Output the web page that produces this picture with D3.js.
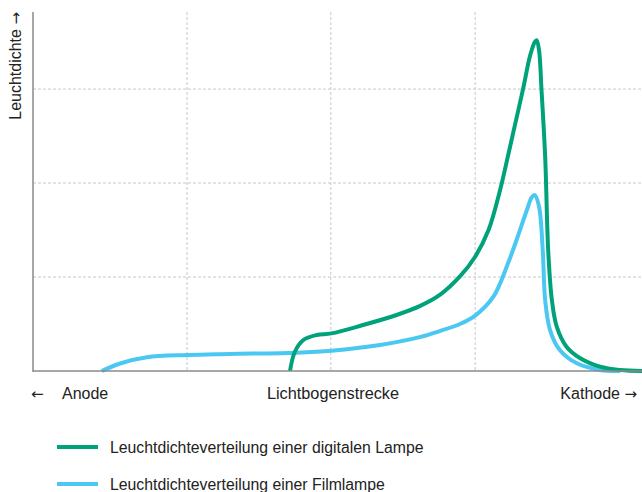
<!DOCTYPE html>
<html><head><meta charset="utf-8">
<script src="https://cdn.jsdelivr.net/npm/d3@7"></script>
<style>body{margin:0;background:#fff}svg{display:block}text{font-family:"Liberation Sans",Arial,sans-serif;fill:#222}.arr{font-family:"DejaVu Sans",sans-serif}</style>
</head><body>
<script>
// x: position along arc (0 = left end, 100 = right end), y: luminance (grid units)
const digitalX = [42.2,43.0,44.4,46.6,49.0,54.2,59.7,63.5,66.8,70.1,72.6,74.8,76.7,78.0,78.9,80.5,81.6,82.4,82.7,83.1,83.5,84.1,84.6,85.2,86.0,87.6,89.8,93.1,96.4,100];
const digitalY = [0,0.205,0.33,0.383,0.40,0.489,0.596,0.69,0.809,1.006,1.216,1.50,1.926,2.29,2.55,3.01,3.35,3.50,3.52,3.41,2.99,2.28,1.28,0.755,0.471,0.258,0.138,0.046,0.011,0];
const filmX = [11.3,14.3,18.7,25.3,32.3,43.3,49.0,57.0,63.5,66.8,70.1,72.6,75.6,78.0,79.4,81.1,81.9,82.4,83.1,83.7,84.1,84.9,86.5,89.3,93.1,96.4];
const filmY = [0,0.08,0.146,0.17,0.181,0.195,0.216,0.277,0.36,0.425,0.50,0.59,0.791,1.146,1.394,1.713,1.85,1.872,1.748,1.287,0.755,0.436,0.223,0.0815,0.011,0];
const xGrid = [25.3,48.9,72.6];
const yGrid = [1,2,3];
const seriesNames = ["Leuchtdichteverteilung einer digitalen Lampe","Leuchtdichteverteilung einer Filmlampe"];
const colors = ["#00a27a","#4ac8f2"];

const W=642,H=492;
const svg=d3.select("body").append("svg").attr("width",W).attr("height",H);
const x=d3.scaleLinear().domain([0,100]).range([33,642]);
const y=d3.scaleLinear().domain([0,3.82]).range([371,12]);

svg.append("g").selectAll("line").data(xGrid).join("line")
 .attr("x1",d=>x(d)).attr("x2",d=>x(d)).attr("y1",y(3.82)).attr("y2",y(0))
 .attr("stroke","#c8c8c8").attr("stroke-width",1).attr("stroke-dasharray","3,2");
svg.append("g").selectAll("line").data(yGrid).join("line")
 .attr("x1",x(0)).attr("x2",x(100)).attr("y1",d=>y(d)).attr("y2",d=>y(d))
 .attr("stroke","#c8c8c8").attr("stroke-width",1).attr("stroke-dasharray","3,2");

const line=d3.line().x(d=>x(d[0])).y(d=>Math.min(y(0),y(d[1]))).curve(d3.curveCatmullRom.alpha(0.5));
const film=filmX.map((v,i)=>[v,filmY[i]]);
const dig=digitalX.map((v,i)=>[v,digitalY[i]]);
svg.append("path").datum(film).attr("d",line).attr("fill","none").attr("stroke",colors[1]).attr("stroke-width",4).attr("stroke-linejoin","round");
svg.append("path").datum(dig).attr("d",line).attr("fill","none").attr("stroke",colors[0]).attr("stroke-width",4).attr("stroke-linejoin","round");

// axes
svg.append("line").attr("x1",x(0)).attr("x2",x(0)).attr("y1",y(3.82)).attr("y2",y(0)+1).attr("stroke","#8a8a8a").attr("stroke-width",1.5);
svg.append("line").attr("x1",x(0)).attr("x2",x(100)).attr("y1",y(0)).attr("y2",y(0)).attr("stroke","#8a8a8a").attr("stroke-width",1.5);

const yl=svg.append("text").attr("transform","translate(21,12) rotate(-90)").attr("text-anchor","end").attr("font-size",16);
yl.append("tspan").text("Leuchtdichte ");
yl.append("tspan").attr("class","arr").attr("font-size",15).text("→");

svg.append("text").attr("class","arr").attr("x",31).attr("y",399).attr("font-size",15).text("←");
svg.append("text").attr("x",62).attr("y",399).attr("font-size",16).text("Anode");
svg.append("text").attr("x",333).attr("y",399).attr("text-anchor","middle").attr("font-size",16.3).text("Lichtbogenstrecke");
const kt=svg.append("text").attr("x",637).attr("y",399).attr("text-anchor","end").attr("font-size",16);
kt.append("tspan").text("Kathode ");
kt.append("tspan").attr("class","arr").attr("font-size",15).text("→");

const lg=svg.append("g").selectAll("g").data(seriesNames).join("g").attr("transform",(d,i)=>`translate(0,${447+i*37})`);
lg.append("line").attr("x1",57).attr("x2",98).attr("stroke",(d,i)=>colors[i]).attr("stroke-width",4);
lg.append("text").attr("x",110).attr("y",5.5).attr("font-size",15.8).text(d=>d);
</script>
</body></html>
